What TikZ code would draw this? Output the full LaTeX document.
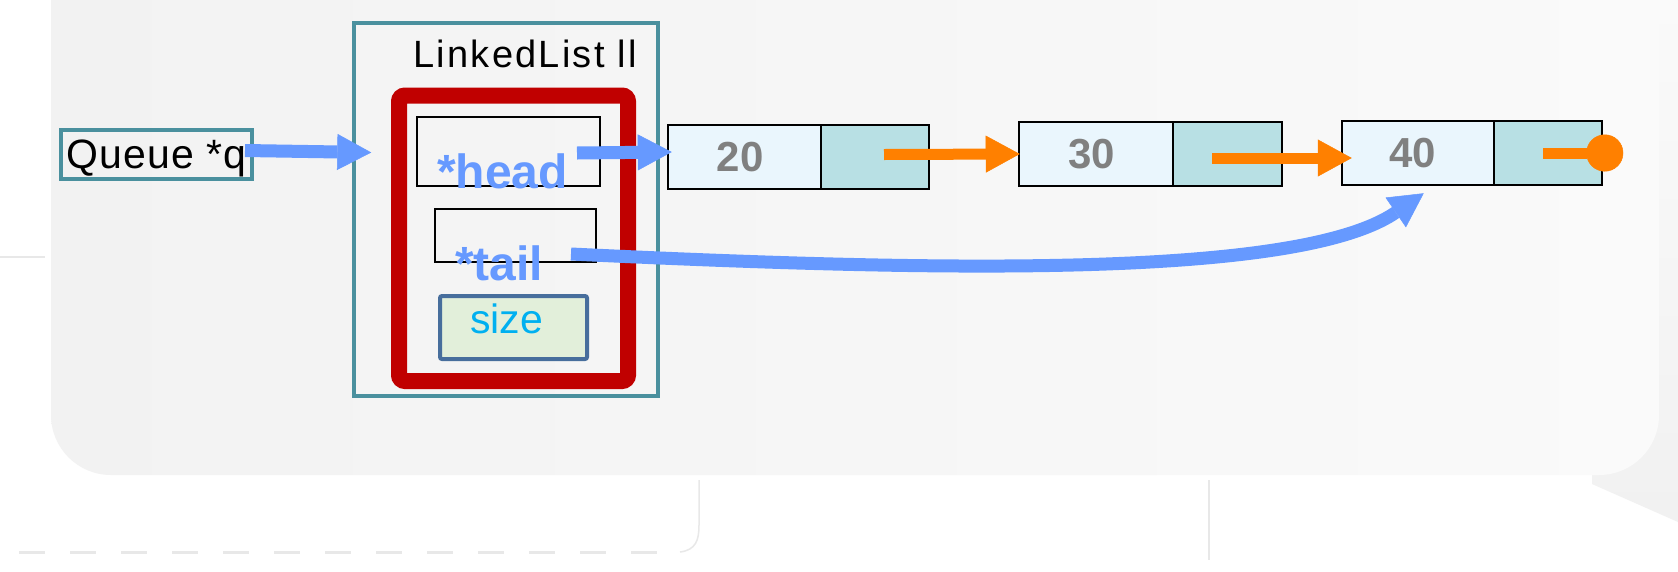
\documentclass[tikz,border=0pt]{standalone}
\usepackage{fontspec}
\setmainfont{Liberation Sans}
\usetikzlibrary{arrows.meta,calc}
\definecolor{panelL}{RGB}{242,242,242}
\definecolor{panelR}{RGB}{250,250,250}
\definecolor{tealb}{RGB}{74,144,158}
\definecolor{ptrblue}{RGB}{102,153,255}
\definecolor{ptrorange}{RGB}{255,128,0}
\definecolor{darkred}{RGB}{192,0,0}
\definecolor{cellL}{RGB}{234,246,253}
\definecolor{cellR}{RGB}{184,224,228}
\definecolor{sizefill}{RGB}{226,239,218}
\definecolor{sizeedge}{RGB}{71,110,156}
\definecolor{sizetext}{RGB}{0,176,240}
\definecolor{numgray}{RGB}{128,128,128}
\definecolor{faint}{RGB}{232,232,232}
\begin{document}
\begin{tikzpicture}[x=1pt,y=-1pt,
  frame/.style={draw=tealb, rectangle, inner sep=0pt},
  fieldbox/.style={draw=black, line width=2pt, rectangle, inner sep=0pt},
  valcell/.style={draw=black, line width=2.5pt, fill=cellL, rectangle, inner sep=0pt, minimum height=64pt},
  ptrcell/.style={draw=black, line width=2.5pt, fill=cellR, rectangle, inner sep=0pt, minimum height=64pt, minimum width=108pt},
  numtext/.style={text=numgray, font=\bfseries\fontsize{42}{48}\selectfont},
  fieldtext/.style={text=ptrblue, font=\bfseries\fontsize{48}{56}\selectfont, inner sep=0pt, anchor=base west},
  blueptr/.style={draw=ptrblue, line width=13pt, -{Triangle[length=34pt,width=36pt,line width=0.5pt]}},
  orangeptr/.style={draw=ptrorange, line width=11pt, -{Triangle[length=34pt,width=37pt,line width=0.5pt]}},
  nullptr/.style={draw=ptrorange, line width=11pt, -{Circle[length=37pt,width=37pt,line width=0.5pt]}}
]
\clip (0,0) rectangle (1678,571);
\useasboundingbox (0,0) rectangle (1678,571);
\fill[white] (0,0) rectangle (1678,571);

% faint background decorations
\shade[top color=gray!4, bottom color=gray!11] (1630,0) -- (1678,0) -- (1678,522) -- (1592,484) -- (1592,420) -- cycle;
\shade[left color=panelL, right color=panelR, rounded corners=60pt] (51,-80) rectangle (1659,475);
\draw[faint, line width=3pt, dash pattern=on 26pt off 25pt] (19,552) -- (662,552);
\draw[faint, line width=1.5pt] (680,552) .. controls (696,550) and (699,540) .. (699,525) -- (699,480);
\draw[faint, line width=1.5pt] (1209,480) -- (1209,560);
\draw[faint, line width=2pt] (0,257) -- (45,257);

% Queue *q
\node[frame, line width=4pt, minimum width=191pt, minimum height=49pt,
      text height=33pt, text depth=6pt,
      font=\fontsize{41}{48}\selectfont\addfontfeature{LetterSpace=3}] (queue) at (156.5,154.5) {Queue *q};

% LinkedList ll
\node[frame, line width=3.5pt, minimum width=304pt, minimum height=373pt] (ll) at (506,209.5) {};
\node[anchor=base west, inner sep=0pt, font=\fontsize{38}{46}\selectfont\addfontfeature{LetterSpace=6}] (lltitle) at (413,67) {LinkedList ll};

% red struct frame
\node[draw=darkred, line width=16pt, rounded corners=6pt, rectangle, inner sep=0pt,
      minimum width=229pt, minimum height=285.5pt] (rb) at (513.5,238.25) {};

% fields
\node[fieldbox, minimum width=183pt, minimum height=69pt] (head) at (508.5,151.5) {};
\node[fieldbox, minimum width=161pt, minimum height=53pt] (tail) at (515.5,235.5) {};
\node[draw=sizeedge, fill=sizefill, line width=4pt, rounded corners=2pt, rectangle, inner sep=0pt,
      minimum width=147pt, minimum height=63pt] (size) at (513.5,327.5) {};
\node[fieldtext] (headtxt) at (437,188) {*head};
\node[fieldtext] (tailtxt) at (455,280) {*tail};
\node[anchor=base west, inner sep=0pt, text=sizetext, font=\fontsize{41}{48}\selectfont] (sizetxt) at (470,333) {size};

% list nodes
\node[valcell, minimum width=153pt, numtext] (v20) at (744.5,157) {20\hspace*{9pt}};
\node[ptrcell] (p20) at (875,157) {};
\node[valcell, minimum width=154pt, numtext] (v30) at (1096,154) {30\hspace*{9pt}};
\node[ptrcell, minimum width=109pt] (p30) at (1227.5,154) {};
\node[valcell, minimum width=152pt, numtext] (v40) at (1418,153) {40\hspace*{11pt}};
\node[ptrcell] (p40) at (1548,153) {};

% pointers
\draw[blueptr] ($(queue.east)+(-9,-4)$) -- ($(queue.east -| ll.west)+(19,-2)$);
\draw[blueptr] ($(head.east)+(-24,1.5)$) -- ($(head.east -| v20.west)+(5,0.5)$);
\draw[orangeptr] ($(p20.center)+(9,-2.5)$) -- ($(v30.west)+(2,0)$);
\draw[orangeptr] ($(p30.center)+(-15.5,4)$) -- ($(v40.west)+(11,5)$);
\draw[nullptr] ($(p40.center)+(-5,0)$) -- ($(p40.east)+(20,0)$);
\draw[blueptr] ($(tail.east)+(-26,18.5)$) .. controls (950,272) and (1300,278) .. ($(v40.south west)+(83,7)$);
\end{tikzpicture}
\end{document}
